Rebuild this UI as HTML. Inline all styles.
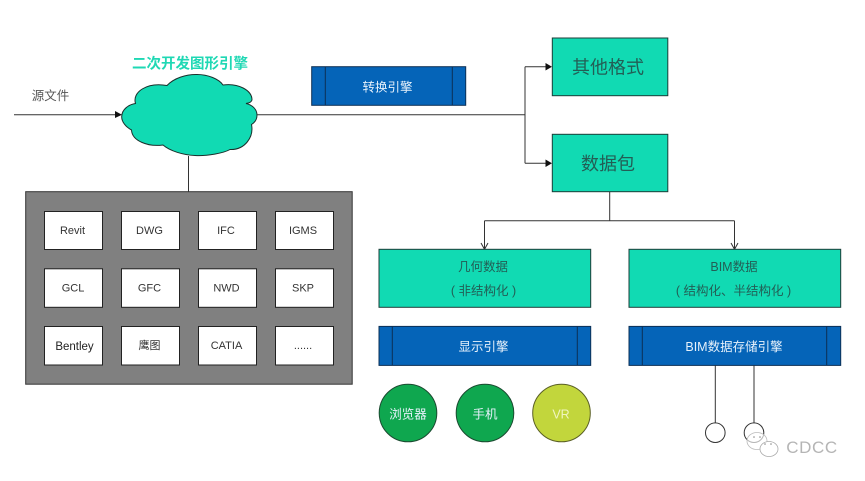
<!DOCTYPE html>
<html>
<head>
<meta charset="utf-8">
<style>
html,body{margin:0;padding:0;background:#fff;width:865px;height:481px;overflow:hidden}
svg{display:block}
text{font-family:"Liberation Sans","Noto Sans CJK SC",sans-serif;text-anchor:middle}
.b{fill:#fff;stroke:#222;stroke-width:1}
.t{font-size:11px;fill:#333}
.g{fill:#11dab3;stroke:#1d3d38;stroke-width:1}
.e{fill:#0564b8;stroke:#0c2f55;stroke-width:1}
.l{stroke:#333;stroke-width:1;fill:none}
.w{fill:#e6f1fb;font-size:12.5px}
.d{fill:#235e55;font-size:12.5px}
</style>
</head>
<body>
<svg width="865" height="481" viewBox="0 0 865 481" xmlns="http://www.w3.org/2000/svg">
<rect width="865" height="481" fill="#fff"/>

<text x="50.500" y="100" font-size="12.500" style="fill:#555">源文件</text>
<path class="l" d="M14 114.700H118"/>
<path d="M115 111L122 114.700L115 118Z" fill="#111"/>

<path d="M121.700 116.500C122 109 129 104.500 135.500 103.500C132 92 147 82 167 85.500C174 78 186 74.300 197 74.500C208 74.500 219 79 223 85C238 83 252 90 252 100C251 103 248 103 246 103.500C253 105 257 110 257 115C257 120 254 123 251.500 124.500C254 137 245 150 230 149.500C224 153 207 156.300 195 155.500C183 155 170 151 163 145C148 147 132 141 131.500 130C126 127 121.500 122 121.700 116.500Z" fill="#11dab3" stroke="#1a2f2b" stroke-width="1"/>
<text x="190" y="68.500" font-size="14.500" font-weight="bold" style="fill:#1fd8b4">二次开发图形引擎</text>

<path class="l" d="M257 114.700H525M525 66.700V163.300M525 66.700H546M525 163.300H546"/>
<path d="M545.500 63L552 66.700L545.500 70.500Z" fill="#111"/>
<path d="M545.500 159.500L552 163.300L545.500 167Z" fill="#111"/>
<path class="l" d="M188.500 156V192"/>

<rect x="25.700" y="191.700" width="326.500" height="192.500" fill="#808080" stroke="#333" stroke-width="1"/>
<rect class="b" x="44.500" y="211.500" width="58" height="38"/>
<rect class="b" x="121.500" y="211.500" width="58" height="38"/>
<rect class="b" x="198.500" y="211.500" width="58" height="38"/>
<rect class="b" x="275.500" y="211.500" width="58" height="38"/>
<rect class="b" x="44.500" y="268.800" width="58" height="38.500"/>
<rect class="b" x="121.500" y="268.800" width="58" height="38.500"/>
<rect class="b" x="198.500" y="268.800" width="58" height="38.500"/>
<rect class="b" x="275.500" y="268.800" width="58" height="38.500"/>
<rect class="b" x="44.500" y="326.500" width="58" height="38.500"/>
<rect class="b" x="121.500" y="326.500" width="58" height="38.500"/>
<rect class="b" x="198.500" y="326.500" width="58" height="38.500"/>
<rect class="b" x="275.500" y="326.500" width="58" height="38.500"/>
<text class="t" x="72.500" y="234">Revit</text>
<text class="t" x="149.500" y="234">DWG</text>
<text class="t" x="226" y="234">IFC</text>
<text class="t" x="303" y="234">IGMS</text>
<text class="t" x="73" y="291.500">GCL</text>
<text class="t" x="149.500" y="291.500">GFC</text>
<text class="t" x="226.500" y="291.500">NWD</text>
<text class="t" x="303" y="291.500">SKP</text>
<text class="t" x="74.500" y="350" style="font-size:11.500px;fill:#222">Bentley</text>
<text class="t" x="149.500" y="349">鹰图</text>
<text class="t" x="226.500" y="349">CATIA</text>
<text class="t" x="303" y="349">......</text>

<rect class="e" x="311.700" y="66.700" width="154" height="38.600"/>
<path d="M325.300 66.700V105.300M452.300 66.700V105.300" stroke="#0c2f55" stroke-width="1"/>
<text class="w" x="387.500" y="91.500">转换引擎</text>

<rect class="g" x="552.300" y="38" width="115.500" height="57.700"/>
<text x="608" y="73.500" font-size="18" style="fill:#235e55">其他格式</text>
<rect class="g" x="552.300" y="134.300" width="115.500" height="57.400"/>
<text x="608" y="170" font-size="18" style="fill:#235e55">数据包</text>

<path class="l" d="M609.700 191.700V220.700M484.500 220.700H734.500M484.500 220.700V249M734.500 220.700V249"/>
<path class="l" d="M481 243L484.500 249.300L488 243M731 243L734.500 249.300L738 243"/>

<rect class="g" x="379" y="249.300" width="211.700" height="58"/>
<text class="d" x="483" y="271">几何数据</text>
<text class="d" x="483.500" y="295">( 非结构化 )</text>
<rect class="g" x="629" y="249.300" width="211.700" height="58"/>
<text class="d" x="734" y="271">BIM数据</text>
<text class="d" x="733.500" y="295">( 结构化、半结构化 )</text>

<rect class="e" x="379" y="326.400" width="211.700" height="39"/>
<path d="M392.300 326.400V365.400M577.300 326.400V365.400" stroke="#0c2f55" stroke-width="1"/>
<text class="w" x="483.500" y="351">显示引擎</text>
<rect class="e" x="629" y="326.400" width="211.700" height="39"/>
<path d="M642.300 326.400V365.400M826.700 326.400V365.400" stroke="#0c2f55" stroke-width="1"/>
<text class="w" x="734" y="351">BIM数据存储引擎</text>

<circle cx="408" cy="413" r="28.800" fill="#0fa74f" stroke="#1b4a30" stroke-width="1"/>
<text class="w" x="408" y="418.500">浏览器</text>
<circle cx="485" cy="413" r="28.800" fill="#0fa74f" stroke="#1b4a30" stroke-width="1"/>
<text class="w" x="485" y="418.500">手机</text>
<circle cx="561.500" cy="413" r="28.800" fill="#c2d63c" stroke="#5a5f25" stroke-width="1"/>
<text x="561" y="418.500" font-size="12.500" style="fill:#f0f5c0">VR</text>

<path class="l" d="M715.300 365.400V422.700M754 365.400V422.700"/>
<circle cx="715.300" cy="432.700" r="9.800" fill="#fff" stroke="#333" stroke-width="1"/>
<circle cx="754" cy="432.700" r="9.800" fill="#fff" stroke="#333" stroke-width="1"/>

<ellipse cx="757" cy="441" rx="10" ry="8.500" fill="#fff" fill-opacity=".65" stroke="#bbb" stroke-width=".8"/>
<ellipse cx="769" cy="449" rx="9" ry="7.500" fill="#fff" stroke="#aaa" stroke-width=".8"/>
<circle cx="754" cy="437" r=".8" fill="#888"/>
<circle cx="760" cy="437" r=".8" fill="#888"/>
<circle cx="765" cy="444" r=".8" fill="#888"/>
<circle cx="771" cy="444" r=".8" fill="#888"/>
<text x="812" y="453" font-size="17" style="fill:#b5b5b5;letter-spacing:.6px">CDCC</text>
</svg>
</body>
</html>
